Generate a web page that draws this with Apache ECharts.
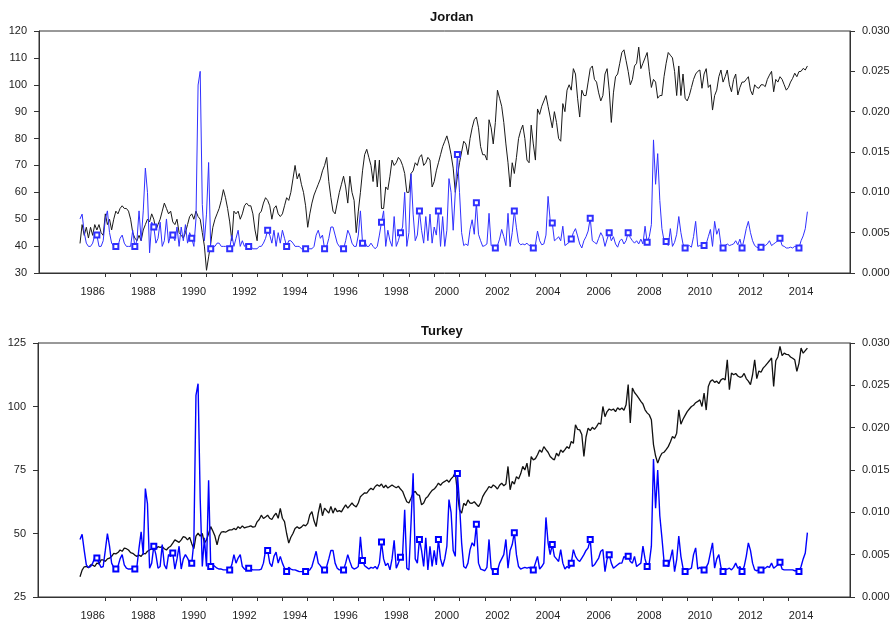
<!DOCTYPE html>
<html>
<head>
<meta charset="utf-8">
<script src="https://cdn.jsdelivr.net/npm/echarts@6/dist/echarts.min.js"></script>
<style>
  html, body { margin: 0; padding: 0; background: #fff; }
  #chart { width: 896px; height: 626px; }
</style>
</head>
<body>
<div id="chart"></div>
<script>
// monthly observations, Jan 1986 .. Oct 2014
const startYear = 1986;

// Jordan: index (left axis)
const jordanIndex = [
  41, 48, 44, 47, 43, 47, 44, 48, 46, 48, 45, 44,
  52, 48, 50, 46, 50, 53, 52, 54, 55, 54, 54, 53,
  50, 45, 43, 42, 44, 42, 46, 48, 50, 49, 52, 50,
  46, 48, 50, 53, 56, 54, 52, 53, 49, 48, 50, 45,
  44, 43, 45, 48, 51, 52, 50, 53, 51, 50, 45, 40,
  31, 36, 41, 47, 50, 52, 54, 57, 61, 58, 54, 49,
  42, 53, 52, 53, 50, 52, 55, 56, 55, 55, 52, 46,
  42, 52, 53, 56, 58, 57, 55, 50, 54, 55, 52, 51,
  52, 55, 58, 57, 60, 65, 70, 65, 67, 63, 60, 55,
  47, 52, 56, 59, 61, 63, 65, 68, 70, 73, 64, 58,
  53, 52, 56, 60, 63, 66, 62, 56, 66, 60, 57, 45,
  53, 60, 68, 74, 76, 73, 70, 64, 72, 62, 72, 54,
  54, 62, 61, 66, 72, 70, 71, 73, 72, 70, 67, 60,
  60, 67, 68, 71, 70, 73, 74, 70, 71, 73, 72, 62,
  64, 68, 71, 74, 77, 79, 81, 78, 74, 69, 60, 66,
  71, 75, 79, 78, 74, 80, 84, 87, 88, 84, 77, 74,
  74, 72, 87, 84, 78, 86, 98, 95, 92, 86, 78, 71,
  62, 71, 67, 73, 80, 83, 85, 80, 72, 71, 85, 78,
  72, 91, 89, 92, 94, 96, 92, 88, 84, 90, 86, 80,
  79, 93, 90, 98, 100, 98, 106, 104, 95, 88, 98, 96,
  96, 101, 106, 107, 102, 101, 97, 94, 96, 104, 106, 98,
  86, 97, 103, 104, 108, 112, 113, 109, 105, 100, 102, 107,
  108, 114, 106, 108, 110, 112, 105, 99, 102, 101, 95, 96,
  96, 103, 108, 112, 111, 110, 105, 96, 107, 96, 104, 95,
  94, 96, 99, 102, 104, 105, 105.5, 98.7, 104, 106, 99, 100,
  90.6, 96, 98, 103, 105.5, 101, 103, 105.5, 100, 97.4, 102, 104,
  96.2, 99, 101, 101, 102, 103, 98, 96.2, 100, 99, 98.7, 100,
  100, 99.3, 102, 103.6, 105, 97.4, 102, 101, 103, 102, 100, 98,
  99, 101, 102.4, 104.3, 103, 104.9, 105, 106.1, 105.5, 107
];

// Jordan: volatility (right axis)
const jordanVol = [
  0.0067, 0.0073, 0.0050, 0.0037, 0.0033, 0.0033, 0.0037, 0.0047, 0.0047, 0.0033, 0.0033, 0.0040,
  0.0067, 0.0077, 0.0050, 0.0037, 0.0033, 0.0033, 0.0033, 0.0043, 0.0047, 0.0037, 0.0033, 0.0033,
  0.0033, 0.0053, 0.0033, 0.0040, 0.0077, 0.0040, 0.0077, 0.0130, 0.0100, 0.0025, 0.0063, 0.0057,
  0.0037, 0.0043, 0.0063, 0.0033, 0.0040, 0.0067, 0.0037, 0.0047, 0.0047, 0.0040, 0.0057, 0.0033,
  0.0057, 0.0040, 0.0060, 0.0037, 0.0050, 0.0043, 0.0033, 0.0067, 0.0233, 0.0250, 0.0085, 0.0040,
  0.0073, 0.0137, 0.0030, 0.0033, 0.0033, 0.0037, 0.0037, 0.0033, 0.0033, 0.0033, 0.0033, 0.0030,
  0.0047, 0.0033, 0.0043, 0.0053, 0.0033, 0.0040, 0.0033, 0.0037, 0.0033, 0.0033, 0.0030, 0.0030,
  0.0030, 0.0033, 0.0033, 0.0037, 0.0043, 0.0053, 0.0047, 0.0037, 0.0053, 0.0033, 0.0050, 0.0037,
  0.0053, 0.0043, 0.0033, 0.0040, 0.0040, 0.0037, 0.0033, 0.0033, 0.0033, 0.0030, 0.0030, 0.0030,
  0.0030, 0.0030, 0.0030, 0.0033, 0.0047, 0.0053, 0.0043, 0.0047, 0.0030, 0.0033, 0.0043, 0.0057,
  0.0057, 0.0047, 0.0037, 0.0033, 0.0030, 0.0030, 0.0040, 0.0053, 0.0047, 0.0037, 0.0033, 0.0033,
  0.0047, 0.0077, 0.0037, 0.0040, 0.0033, 0.0033, 0.0037, 0.0033, 0.0030, 0.0033, 0.0047, 0.0063,
  0.0077, 0.0033, 0.0053, 0.0040, 0.0033, 0.0070, 0.0033, 0.0040, 0.0050, 0.0057, 0.0100, 0.0033,
  0.0050, 0.0123, 0.0073, 0.0040, 0.0047, 0.0077, 0.0053, 0.0037, 0.0070, 0.0040, 0.0073, 0.0037,
  0.0057, 0.0047, 0.0077, 0.0033, 0.0070, 0.0033, 0.0053, 0.0117, 0.0100, 0.0053, 0.0100, 0.0147,
  0.0100, 0.0050, 0.0034, 0.0036, 0.0034, 0.0054, 0.0066, 0.0048, 0.0087, 0.0048, 0.0040, 0.0033,
  0.0034, 0.0036, 0.0074, 0.0034, 0.0033, 0.0031, 0.0034, 0.0042, 0.0054, 0.0045, 0.0034, 0.0074,
  0.0033, 0.0050, 0.0077, 0.0056, 0.0038, 0.0035, 0.0036, 0.0035, 0.0037, 0.0034, 0.0035, 0.0031,
  0.0035, 0.0052, 0.0040, 0.0035, 0.0036, 0.0047, 0.0095, 0.0065, 0.0062, 0.0040, 0.0042, 0.0045,
  0.0040, 0.0058, 0.0034, 0.0036, 0.0038, 0.0042, 0.0050, 0.0055, 0.0046, 0.0036, 0.0031, 0.0040,
  0.0045, 0.0052, 0.0068, 0.0040, 0.0038, 0.0036, 0.0043, 0.0050, 0.0045, 0.0033, 0.0042, 0.0050,
  0.0040, 0.0045, 0.0036, 0.0032, 0.0040, 0.0042, 0.0036, 0.0040, 0.0050, 0.0044, 0.0040, 0.0037,
  0.0040, 0.0036, 0.0042, 0.0036, 0.0058, 0.0038, 0.0045, 0.0060, 0.0165, 0.0110, 0.0148, 0.0090,
  0.0055, 0.0040, 0.0039, 0.0034, 0.0055, 0.0033, 0.0038, 0.0048, 0.0070, 0.0050, 0.0036, 0.0031,
  0.0033, 0.0034, 0.0032, 0.0045, 0.0064, 0.0033, 0.0034, 0.0033, 0.0034, 0.0036, 0.0045, 0.0054,
  0.0033, 0.0064, 0.0048, 0.0055, 0.0035, 0.0031, 0.0034, 0.0036, 0.0034, 0.0035, 0.0036, 0.0040,
  0.0035, 0.0042, 0.0031, 0.0042, 0.0055, 0.0064, 0.0050, 0.0040, 0.0034, 0.0032, 0.0031, 0.0032,
  0.0033, 0.0034, 0.0036, 0.0040, 0.0034, 0.0036, 0.0038, 0.0040, 0.0043, 0.0034, 0.0033, 0.0031,
  0.0031, 0.0032, 0.0031, 0.0033, 0.0032, 0.0031, 0.0040, 0.0046, 0.0055, 0.0076
];

// Turkey: index (left axis)
const turkeyIndex = [
  33, 35.6, 36.9, 37, 36.5, 37.6, 37.6, 37, 38.3, 38, 39.6, 39.6,
  39, 40, 40.3, 41, 42.2, 42, 42.5, 43.5, 43, 44.2, 44, 43.5,
  42.5, 42.2, 41.5, 41, 41.5, 41, 42.2, 42, 43, 43.5, 44, 43.5,
  44, 44.8, 44.5, 44.8, 44, 43.5, 44.5, 45, 46.2, 47.5, 47, 46.5,
  47.5, 48.8, 48.5, 47.5, 48.5, 46, 44, 49, 50.1, 49, 50, 46.2,
  47.5, 50, 52.7, 51, 49, 45.5, 49, 50.5, 50.7, 50.5, 51, 51.4,
  51.4, 52, 51.5, 52.7, 52, 53, 52.2, 52.5, 52.7, 53, 52.5, 52.7,
  54.6, 55.5, 57.2, 55.9, 56.5, 57.2, 56, 55.5, 57, 58, 56, 59.9,
  56, 54.7, 50, 46.2, 48.5, 50, 52, 52.7, 52, 52.5, 53.4, 53,
  54, 57.3, 58.6, 55, 52.7, 58, 61.9, 57, 60, 59, 58, 60.7,
  58, 60, 58.6, 59, 58.5, 60, 61.3, 60, 61, 62, 61, 60.5,
  62, 64.5, 65.3, 66, 65.9, 67, 67.8, 67.2, 68.5, 69.2, 68.6, 69.5,
  68, 69, 67.9, 68.5, 69.1, 68.5, 68, 68.6, 67.5, 66.6, 64.5, 62.5,
  62, 63.9, 65.9, 66.6, 65.3, 65, 61.3, 62, 63.9, 64.6, 65.9, 67,
  67.5, 68.5, 69.8, 69, 70, 70.5, 71.1, 70.2, 71.5, 72.4, 74, 66,
  59.3, 58, 61.9, 61, 63.2, 62, 61.9, 62.5, 61.5, 60.6, 62, 64.5,
  66, 67.2, 68.5, 68, 69.1, 68.5, 67.5, 69, 69.8, 68.8, 69.5, 76.4,
  67.2, 70.5, 69.5, 72.4, 71.5, 73.5, 76.4, 75, 77.7, 72.4, 80.3, 79,
  79.5, 81, 82.9, 82, 84.2, 83, 82, 80.3, 79.5, 79, 81.6, 80.5,
  82.9, 82, 83, 84.2, 83.5, 86.2, 85.5, 92.8, 91, 90.8, 89, 80.3,
  88, 91.5, 90.5, 91.8, 91, 92.1, 93.5, 93, 100, 96, 98, 99,
  98.5, 99, 98, 99.5, 98.7, 99.4, 98.5, 100.7, 108.6, 93.5, 107.3, 105.5,
  104.5, 103.3, 102, 101, 98.7, 97.5, 96.7, 94.8, 85, 80.5, 77.7, 80,
  81.6, 82, 83, 84.2, 86, 88.2, 87.5, 89.5, 98.7, 93, 95, 96.5,
  98, 99, 100, 100.5, 101.5, 102, 102.6, 100, 105.3, 98.6, 107.9, 109.9,
  110.5, 109.5, 110, 109, 110.5, 111, 110.5, 118.4, 106.6, 113.2, 112.5, 113,
  112, 111.5, 111.8, 113, 111, 110, 108.6, 112.5, 118.4, 111, 114, 113.5,
  115.1, 116, 117, 118, 119.1, 107.9, 118, 119.5, 123.7, 120, 121, 120.5,
  120.4, 119.5, 119, 118.4, 113.8, 117, 123, 121, 122, 123
];

// Turkey: volatility (right axis)
const turkeyVol = [
  0.0068, 0.0074, 0.0055, 0.0038, 0.0035, 0.0036, 0.0040, 0.0046, 0.0046, 0.0040, 0.0035, 0.0036,
  0.0055, 0.0075, 0.0060, 0.0040, 0.0035, 0.0033, 0.0036, 0.0045, 0.0050, 0.0038, 0.0034, 0.0033,
  0.0033, 0.0034, 0.0033, 0.0036, 0.0058, 0.0077, 0.0050, 0.0128, 0.0110, 0.0034, 0.0040, 0.0060,
  0.0050, 0.0034, 0.0036, 0.0062, 0.0038, 0.0033, 0.0050, 0.0048, 0.0052, 0.0033, 0.0045, 0.0060,
  0.0033, 0.0045, 0.0050, 0.0046, 0.0040, 0.0040, 0.0065, 0.0238, 0.0252, 0.0117, 0.0036, 0.0070,
  0.0036, 0.0138, 0.0036, 0.0038, 0.0036, 0.0034, 0.0033, 0.0033, 0.0032, 0.0032, 0.0032, 0.0032,
  0.0038, 0.0050, 0.0040, 0.0046, 0.0050, 0.0036, 0.0033, 0.0032, 0.0034, 0.0033, 0.0032, 0.0032,
  0.0032, 0.0032, 0.0033, 0.0040, 0.0055, 0.0055, 0.0040, 0.0036, 0.0048, 0.0053, 0.0040, 0.0048,
  0.0040, 0.0034, 0.0030, 0.0035, 0.0033, 0.0032, 0.0032, 0.0031, 0.0030, 0.0030, 0.0030, 0.0030,
  0.0031, 0.0032, 0.0036, 0.0045, 0.0054, 0.0040, 0.0037, 0.0033, 0.0032, 0.0036, 0.0045, 0.0055,
  0.0055, 0.0040, 0.0034, 0.0032, 0.0032, 0.0032, 0.0040, 0.0050, 0.0042, 0.0035, 0.0033, 0.0034,
  0.0036, 0.0071, 0.0043, 0.0037, 0.0035, 0.0033, 0.0035, 0.0034, 0.0036, 0.0033, 0.0040, 0.0065,
  0.0045, 0.0037, 0.0040, 0.0032, 0.0045, 0.0067, 0.0034, 0.0040, 0.0047, 0.0050, 0.0103, 0.0034,
  0.0032, 0.0087, 0.0146, 0.0045, 0.0040, 0.0068, 0.0055, 0.0036, 0.0070, 0.0032, 0.0060, 0.0036,
  0.0055, 0.0038, 0.0068, 0.0045, 0.0036, 0.0045, 0.0060, 0.0115, 0.0100, 0.0055, 0.0048, 0.0146,
  0.0110, 0.0064, 0.0036, 0.0034, 0.0040, 0.0056, 0.0064, 0.0060, 0.0086, 0.0040, 0.0033, 0.0032,
  0.0031, 0.0035, 0.0068, 0.0034, 0.0030, 0.0030, 0.0031, 0.0040, 0.0045, 0.0050, 0.0068, 0.0034,
  0.0055, 0.0062, 0.0076, 0.0050, 0.0036, 0.0033, 0.0034, 0.0035, 0.0034, 0.0035, 0.0033, 0.0032,
  0.0040, 0.0048, 0.0033, 0.0036, 0.0040, 0.0094, 0.0064, 0.0050, 0.0062, 0.0048, 0.0045, 0.0042,
  0.0056, 0.0040, 0.0033, 0.0036, 0.0034, 0.0040, 0.0056, 0.0048, 0.0044, 0.0042, 0.0046, 0.0050,
  0.0055, 0.0058, 0.0068, 0.0036, 0.0038, 0.0042, 0.0046, 0.0054, 0.0056, 0.0030, 0.0045, 0.0050,
  0.0040, 0.0034, 0.0036, 0.0038, 0.0040, 0.0040, 0.0048, 0.0045, 0.0048, 0.0042, 0.0040, 0.0048,
  0.0036, 0.0038, 0.0040, 0.0060, 0.0045, 0.0036, 0.0040, 0.0060, 0.0163, 0.0105, 0.0150, 0.0096,
  0.0070, 0.0042, 0.0040, 0.0036, 0.0045, 0.0056, 0.0030, 0.0044, 0.0072, 0.0048, 0.0034, 0.0030,
  0.0032, 0.0033, 0.0034, 0.0050, 0.0058, 0.0033, 0.0035, 0.0033, 0.0032, 0.0035, 0.0040, 0.0052,
  0.0064, 0.0034, 0.0045, 0.0050, 0.0035, 0.0030, 0.0032, 0.0033, 0.0034, 0.0032, 0.0035, 0.0040,
  0.0034, 0.0036, 0.0030, 0.0036, 0.0048, 0.0064, 0.0055, 0.0040, 0.0032, 0.0031, 0.0032, 0.0032,
  0.0033, 0.0034, 0.0036, 0.0035, 0.0040, 0.0034, 0.0036, 0.0038, 0.0041, 0.0033, 0.0032, 0.0032,
  0.0032, 0.0032, 0.0032, 0.0031, 0.0031, 0.0030, 0.0036, 0.0045, 0.0052, 0.0076
];

// x axis: labels every other year, centred in the year; ticks at year boundaries
const labelYears = [1986, 1988, 1990, 1992, 1994, 1996, 1998, 2000, 2002, 2004, 2006, 2008, 2010, 2012, 2014];
const tickYears = [];
for (let y = 1987; y <= 2014; y++) tickYears.push(y);

function toPairs(arr) {
  return arr.map((v, i) => [startYear + i / 12, v]);
}
// a hollow square on every 9th observation
function markEvery(val, params) {
  return params.dataIndex % 9 === 8 ? 5 : 0;
}

const axisColor = '#333';
const fontFamily = 'Liberation Sans, Arial, sans-serif';
const labelFont = { fontSize: 11, color: '#222', fontFamily: fontFamily };

function xAxisFor(gridIndex, min) {
  return {
    type: 'value', gridIndex: gridIndex, min: min, max: 2016.434,
    splitLine: { show: false },
    axisLine: { lineStyle: { color: axisColor, width: 1 } },
    axisTick: { customValues: tickYears, length: 4, lineStyle: { color: axisColor } },
    axisLabel: Object.assign({
      customValues: labelYears.map(y => y + 0.5),
      formatter: v => String(Math.floor(v)),
      margin: 13
    }, labelFont)
  };
}

function yAxisFor(gridIndex, side, min, max, interval, fmt) {
  return {
    type: 'value', gridIndex: gridIndex, position: side,
    min: min, max: max, interval: interval,
    splitLine: { show: false },
    axisLine: { show: true, lineStyle: { color: axisColor, width: 1 } },
    axisTick: { show: true, length: 5, lineStyle: { color: axisColor } },
    axisLabel: Object.assign({ formatter: fmt, margin: 12 }, labelFont)
  };
}

const chart = echarts.init(document.getElementById('chart'), null, { renderer: 'canvas' });
chart.setOption({
  animation: false,
  backgroundColor: '#fff',
  title: [
    { text: 'Jordan', left: 425, top: 6,
      textStyle: { fontSize: 13, fontWeight: 'bold', color: '#111', fontFamily: fontFamily } },
    { text: 'Turkey', left: 416, top: 320,
      textStyle: { fontSize: 13, fontWeight: 'bold', color: '#111', fontFamily: fontFamily } }
  ],
  grid: [
    { left: 39, right: 46, top: 31, height: 242, show: true, borderColor: axisColor, borderWidth: 1 },
    { left: 38, right: 46, top: 343, height: 254, show: true, borderColor: axisColor, borderWidth: 1 }
  ],
  xAxis: [xAxisFor(0, 1984.379), xAxisFor(1, 1984.340)],
  yAxis: [
    yAxisFor(0, 'left', 30, 120, 10, v => String(v)),
    yAxisFor(0, 'right', 0, 0.03, 0.005, v => v.toFixed(3)),
    yAxisFor(1, 'left', 25, 125, 25, v => String(v)),
    yAxisFor(1, 'right', 0, 0.03, 0.005, v => v.toFixed(3))
  ],
  series: [
    {
      type: 'line', xAxisIndex: 0, yAxisIndex: 0, data: toPairs(jordanIndex),
      showSymbol: false, lineStyle: { color: '#1a1a1a', width: 1 }
    },
    {
      type: 'line', xAxisIndex: 0, yAxisIndex: 1, data: toPairs(jordanVol),
      symbol: 'emptyRect', symbolSize: markEvery, showAllSymbol: true,
      itemStyle: { color: '#3030ff', borderWidth: 0.9 },
      lineStyle: { color: '#3030ff', width: 1 }
    },
    {
      type: 'line', xAxisIndex: 1, yAxisIndex: 2, data: toPairs(turkeyIndex),
      showSymbol: false, lineStyle: { color: '#111', width: 1.3 }
    },
    {
      type: 'line', xAxisIndex: 1, yAxisIndex: 3, data: toPairs(turkeyVol),
      symbol: 'emptyRect', symbolSize: markEvery, showAllSymbol: true,
      itemStyle: { color: '#0000ff', borderWidth: 1 },
      lineStyle: { color: '#0000ff', width: 1.4 }
    }
  ]
});
</script>
</body>
</html>
